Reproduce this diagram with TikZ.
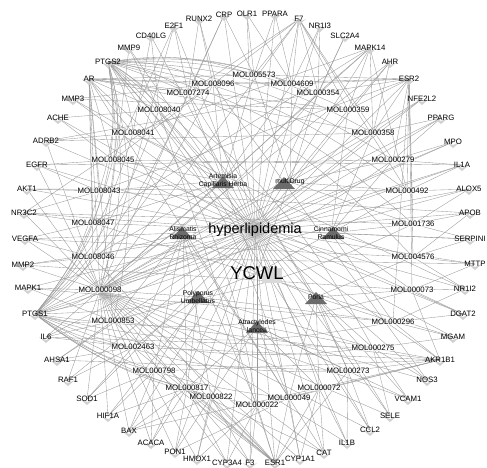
\documentclass[tikz,border=0pt]{standalone}
\usepackage{fontspec}
\setmainfont{Liberation Sans}
\usetikzlibrary{backgrounds}
\begin{document}
\begin{tikzpicture}[x=1pt,y=-1pt,
  gene/.style={font=\fontsize{7.8}{8}\selectfont, inner sep=0.5pt},
  mol/.style={font=\fontsize{7.8}{8}\selectfont, inner sep=0.6pt, fill=white, fill opacity=0.55, text opacity=1},
  herb/.style={font=\fontsize{6.8}{8.2}\selectfont, align=center, inner sep=0pt},
  link/.style={draw=black!40, line width=0.35pt},
  gmark/.pic={\fill[black!18] (-7,-2) -- (0,4) -- (7,-2) -- (0,1) -- cycle;},
  hmark/.pic={\fill[black!58] (-11,6) -- (0,-6) -- (11,6) -- cycle;}]
\useasboundingbox (0,0) rectangle (487,467);
% gene targets
\foreach \n/\x/\y in {OLR1/247/14, PPARA/275/14, F7/299/19, NR1I3/320/26, SLC2A4/345/36, MAPK14/370/48, AHR/390/62, ESR2/409/79, NFE2L2/422/99, PPARG/441/118, MPO/453/142, IL1A/462/165, ALOX5/469/189, APOB/470/213, SERPINI/470/239, MTTP/475/264, NR1I2/465/289, DGAT2/463/314, MGAM/453/337, AKR1B1/440/360, NOS3/427/380, VCAM1/408/399, SELE/390/416, CCL2/370/430, IL1B/347/443, CAT/324/453, CYP1A1/300/459, ESR1/275/463, F3/250/463, CYP3A4/227/463, HMOX1/197/459, PON1/175/452, ACACA/151/443, BAX/129/431, HIF1A/108/416, SOD1/87/399, RAF1/68/380, AHSA1/57/360, IL6/46/337, PTGS1/35/314, MAPK1/28/288, MMP2/23/265, VEGFA/25/239, NR3C2/24/213, AKT1/27/189, EGFR/37/165, ADRB2/46/141, ACHE/58/118, MMP3/73/99, AR/89/79, PTGS2/108/62, MMP9/129/48, CD40LG/151/36, E2F1/174/26, RUNX2/199/19, CRP/224/15}
{ \pic at (\x,\y+2) {gmark}; \node[gene] (\n) at (\x,\y) {\n}; }
% compounds
\foreach \n/\x/\y in {005573/254/75, 008096/213/84, 004609/292/84, 007274/188/93, 000354/318/93, 008040/159/110, 000359/348/110, 008041/133/133, 000358/373/133, 008045/113/160, 000279/393/160, 008043/99/191, 000492/407/191, 008047/93/223, 001736/413/224, 008046/93/257, 004576/413/257, 000098/100/290, 000073/412/290, 000853/113/321, 000296/393/322, 002463/133/347, 000275/373/348, 000798/154/371, 000273/348/371, 000817/187/388, 000072/319/388, 000822/211/397, 000049/289/398, 000022/257/405}
{ \node[mol] (M\n) at (\x,\y) {MOL\n}; }
% herbs
\pic at (223,182) {hmark};
\node[herb] (art) at (223,181) {Artemisia\\Capillaris Herba};
\pic at (284,183) {hmark};
\node[herb] (mul) at (290,182) {multiDrug};
\pic at (182,233) {hmark};
\node[herb] (ali) at (183,233) {Alismatis\\Rhizoma};
\pic at (333,233) {hmark};
\node[herb] (cin) at (331,233) {Cinnamomi\\Ramulus};
\pic at (198,297) {hmark};
\node[herb] (pol) at (198,297) {Polyporus\\Umbellatus};
\pic at (316,298) {hmark};
\node[herb] (por) at (316,297) {Poria};
\pic at (257,327) {hmark};
\node[herb] (atr) at (257,326) {Atractylodes\\lancea};
% hubs
\fill[black!15] (262,268) rectangle (282,283);
\node[font=\fontsize{14.5}{15}\selectfont, inner sep=0pt] (hyp) at (255,230) {hyperlipidemia};
\node[font=\fontsize{18.5}{19}\selectfont, inner sep=0pt] (ycwl) at (257,273) {YCWL};
\begin{scope}[on background layer]
\fill[white] (0,0) rectangle (487,467);
% disease to targets
\foreach \g in {OLR1,PPARA,F7,NR1I3,SLC2A4,MAPK14,AHR,ESR2,NFE2L2,PPARG,MPO,IL1A,ALOX5,APOB,SERPINI,MTTP,NR1I2,DGAT2,MGAM,AKR1B1,NOS3,VCAM1,SELE,CCL2,IL1B,CAT,CYP1A1,ESR1,F3,CYP3A4,HMOX1,PON1,ACACA,BAX,HIF1A,SOD1,RAF1,AHSA1,IL6,PTGS1,MAPK1,MMP2,VEGFA,NR3C2,AKT1,EGFR,ADRB2,ACHE,MMP3,AR,PTGS2,MMP9,CD40LG,E2F1,RUNX2,CRP}
  \draw[link] (hyp.center) -- (\g.center);
% formula to herbs
\foreach \h in {art,mul,ali,cin,pol,por,atr,hyp}
  \draw[link] (ycwl.center) -- (\h.center);
% herbs to compounds
\foreach \h/\ms in {art/{008096,007274,008040,008041,008045,008043,008047,008046,000098,005573,004609,000354},
  mul/{000098,000358,000359,000354,004609,005573,000279,000492,001736},
  ali/{000853,002463,000798,000817,000822,000022,000049,008046},
  cin/{000279,000492,001736,004576,000073,000358,000359,000296},
  pol/{000296,000275,000273,000817,000798,000853,000098,002463},
  por/{000296,000275,000273,000072,000073,000049,004576},
  atr/{000072,000049,000022,000822,000817,000273,000275}}
  \foreach \m in \ms \draw[link] (\h.center) -- (M\m.center);
% compounds to targets
\foreach \m/\gs in {005573/{OLR1,PPARA,ESR2,AR,CRP,F7},
  008096/{AR,NR3C2,MMP3,ESR2,RUNX2,NOS3},
  004609/{ESR2,NR1I3,F7,PPARA,AR,OLR1},
  007274/{AR,RUNX2,CRP,F7,E2F1,SELE},
  000354/{MAPK14,SLC2A4,ESR2,F7,NR1I3,ADRB2},
  008040/{AR,ACHE,MMP9,ESR1,CD40LG,CCL2},
  000359/{AHR,ESR2,MAPK14,AR,F7,MMP3},
  008041/{AR,ADRB2,CD40LG,MAPK14,MMP3,NR1I2},
  000358/{PPARG,NFE2L2,ESR2,MAPK14,AR,AHR,ADRB2},
  008045/{AR,EGFR,E2F1,F7,ACHE,IL1A,DGAT2},
  000279/{IL1A,MPO,PPARG,ESR2,F7,EGFR},
  008043/{AR,AKT1,ESR2,NR3C2,EGFR,APOB},
  000492/{ALOX5,IL1A,MAPK14,ESR2,F7,AKT1},
  008047/{AR,VEGFA,MAPK14,NR3C2,SERPINI,MGAM},
  001736/{APOB,ALOX5,ESR2,SERPINI,NR3C2},
  008046/{AR,MMP2,ESR1,VEGFA,MTTP},
  004576/{MTTP,SERPINI,APOB,ESR2,NR1I2,VEGFA},
  000098/{AR,MAPK1,AKT1,EGFR,VEGFA,MMP2,MMP9,IL6,RAF1,SOD1,HIF1A,BAX,ACACA,PON1,HMOX1,CYP3A4,F3,ESR1,CYP1A1,CAT,IL1B,CCL2,SELE,VCAM1,NOS3,PPARG,MPO,IL1A,ALOX5,NFE2L2,AHR,CRP,E2F1,MAPK14,F7,ADRB2,NR3C2},
  000073/{NR1I2,MTTP,AKR1B1,ESR2,DGAT2,MMP2},
  000853/{AR,IL6,AHSA1,ESR1,MAPK1,AKR1B1},
  000296/{AKR1B1,MGAM,DGAT2,ESR2,NR1I2,MAPK1},
  002463/{RAF1,AHSA1,ESR1,IL6,SOD1,AKR1B1},
  000275/{AKR1B1,SELE,NOS3,VCAM1,MGAM,IL6},
  000798/{BAX,SOD1,ESR1,HIF1A,ACACA,AKR1B1},
  000273/{AKR1B1,CCL2,ESR1,VCAM1,IL1B,AHSA1},
  000817/{BAX,HIF1A,ESR1,CYP3A4,PON1,ACACA,CAT},
  000072/{ESR1,CAT,IL1B,AKR1B1,CYP1A1,BAX},
  000822/{PON1,HMOX1,ESR1,F3,BAX},
  000049/{ESR1,CYP1A1,AR,AKR1B1,CAT,PON1},
  000022/{ESR1,F3,AKR1B1,CYP3A4,HMOX1}}
  \foreach \g in \gs \draw[link] (M\m.center) -- (\g.center);
% curved links of the two hub targets
\foreach \m in {005573,004609,000354,000359,000358,000279,000492,001736,004576,008096,007274,008040,008041,008045,008043,008047,008046,000098,000853,000022,000049,000072,000273,000275}
  \draw[link] (PTGS2.center) to[bend left=14] (M\m.center);
\foreach \m in {008096,007274,008040,008041,008045,008043,008047,008046,000098,000853,002463,000798,000817,000822,000022,000049,000273,000275,000296,000073,001736,000279,000354,000358}
  \draw[link] (PTGS1.center) to[bend right=12] (M\m.center);
\end{scope}
\end{tikzpicture}
\end{document}
